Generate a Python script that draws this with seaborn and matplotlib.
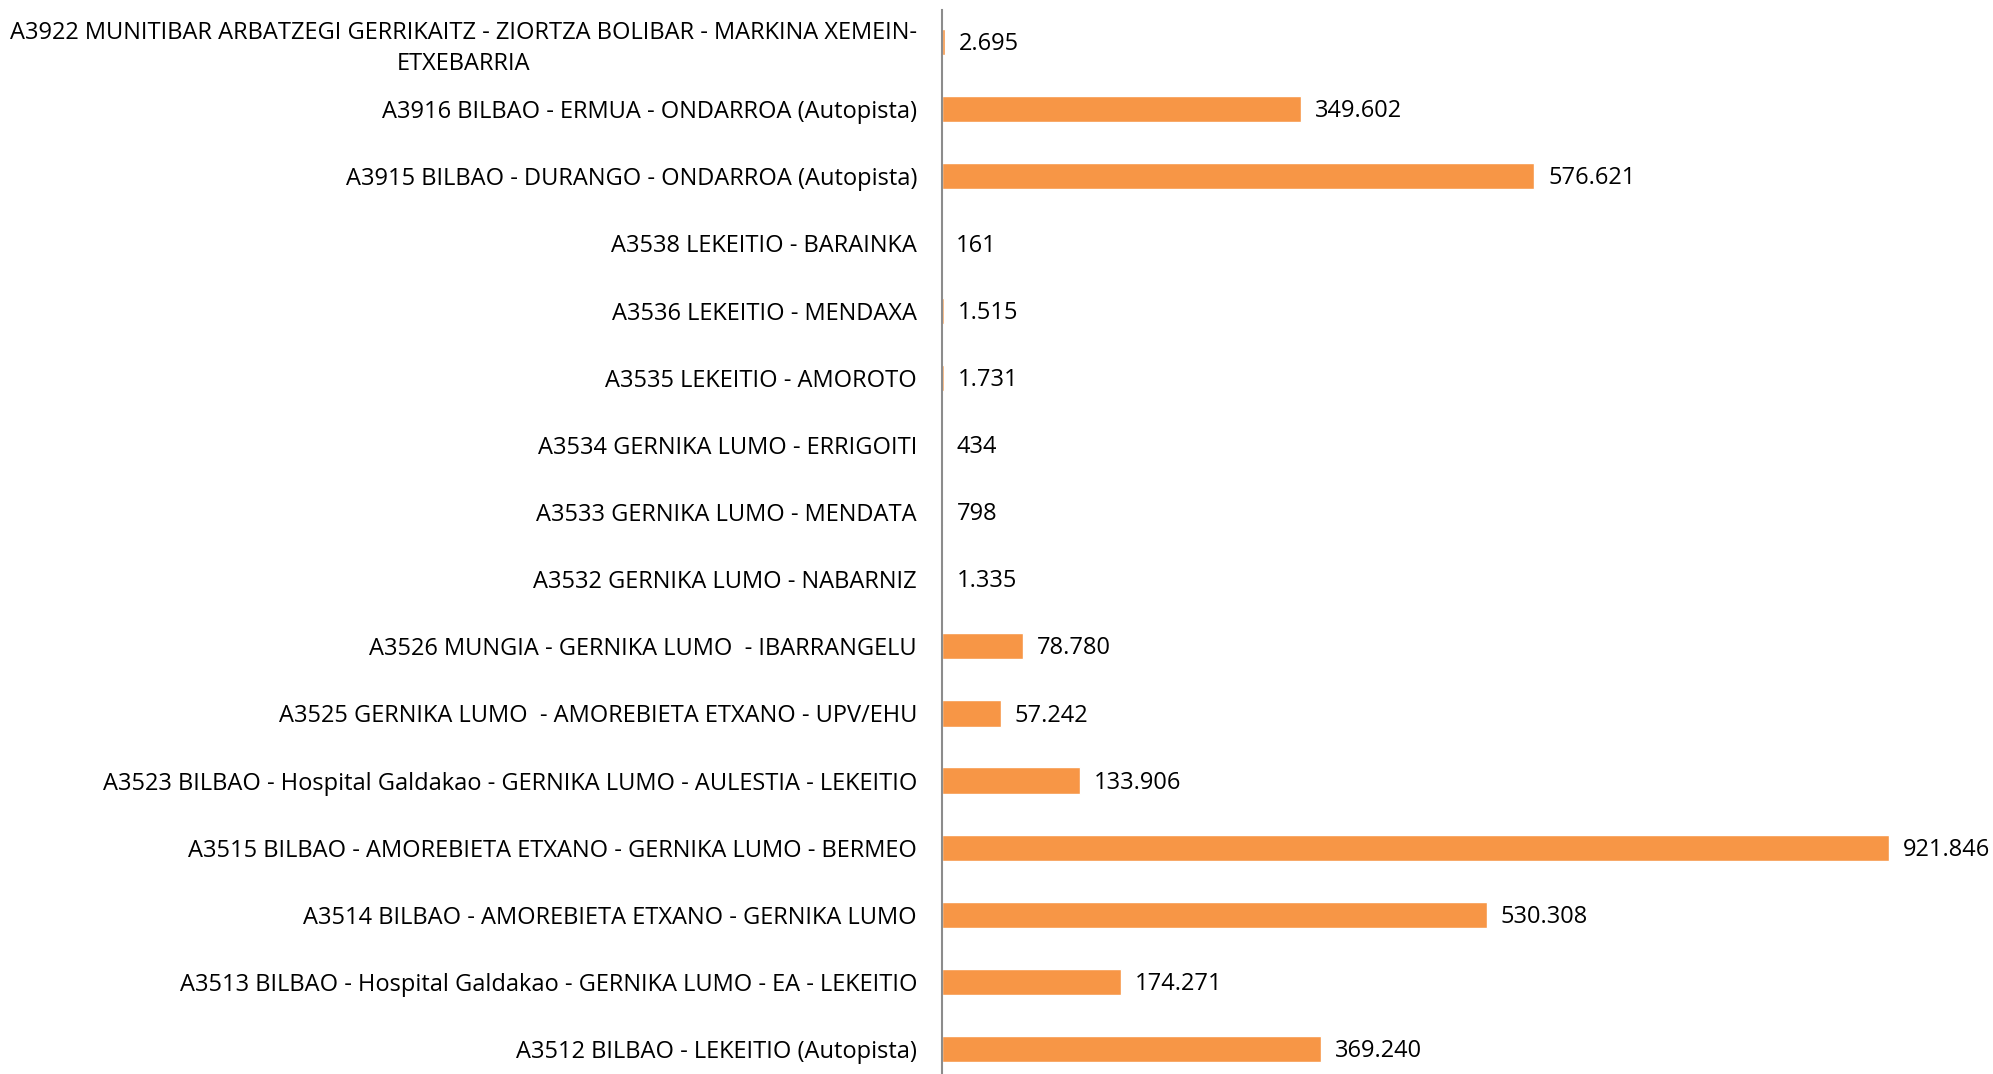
import matplotlib
matplotlib.use("Agg")
import matplotlib.pyplot as plt
import pandas as pd
import seaborn as sns

# Routes, top to bottom as in the chart
lines = [
    "A3922 MUNITIBAR ARBATZEGI GERRIKAITZ - ZIORTZA BOLIBAR - MARKINA XEMEIN-\nETXEBARRIA",
    "A3916 BILBAO - ERMUA - ONDARROA (Autopista)",
    "A3915 BILBAO - DURANGO - ONDARROA (Autopista)",
    "A3538 LEKEITIO - BARAINKA",
    "A3536 LEKEITIO - MENDAXA",
    "A3535 LEKEITIO - AMOROTO",
    "A3534 GERNIKA LUMO - ERRIGOITI",
    "A3533 GERNIKA LUMO - MENDATA",
    "A3532 GERNIKA LUMO - NABARNIZ",
    "A3526 MUNGIA - GERNIKA LUMO  - IBARRANGELU",
    "A3525 GERNIKA LUMO  - AMOREBIETA ETXANO - UPV/EHU",
    "A3523 BILBAO - Hospital Galdakao - GERNIKA LUMO - AULESTIA - LEKEITIO",
    "A3515 BILBAO - AMOREBIETA ETXANO - GERNIKA LUMO - BERMEO",
    "A3514 BILBAO - AMOREBIETA ETXANO - GERNIKA LUMO",
    "A3513 BILBAO - Hospital Galdakao - GERNIKA LUMO - EA - LEKEITIO",
    "A3512 BILBAO - LEKEITIO (Autopista)",
]
passengers = [
    2695, 349602, 576621, 161, 1515, 1731, 434, 798,
    1335, 78780, 57242, 133906, 921846, 530308, 174271, 369240,
]

df = pd.DataFrame({"line": lines, "value": passengers})

sns.set_style("white")
plt.rcParams["font.family"] = ["Open Sans", "DejaVu Sans"]

fig = plt.figure(figsize=(19.93, 10.74), dpi=100)
ax = fig.add_axes([942 / 1993, 0.0, 1 - 942 / 1993, 1 - 10 / 1074])

sns.barplot(data=df, x="value", y="line", orient="h", color="#F79646",
            saturation=1, width=0.39, ax=ax)

ax.set_xlim(0, 1023000)
ax.set_ylim(15.37, -0.477)

for c in ax.containers:
    texts = ax.bar_label(c, labels=[f"{v:,}".replace(",", ".") for v in passengers],
                         padding=10, fontsize=17, color="black")
    # nudge values a bit lower, like the original
    for t in texts:
        x, y = t.xyann
        t.xyann = (x, y - 1.5)

ax.set_xlabel("")
ax.set_ylabel("")
ax.set_xticks([])
ax.tick_params(axis="y", length=0, pad=18, labelsize=17, labelcolor="black")
for lab in ax.get_yticklabels():
    lab.set_multialignment("center")
    lab.set_linespacing(1.4)

for s in ["top", "right", "bottom"]:
    ax.spines[s].set_visible(False)
ax.spines["left"].set_color("#8c8c8c")
ax.spines["left"].set_linewidth(1.5)

fig.savefig("out.png", dpi=100)
